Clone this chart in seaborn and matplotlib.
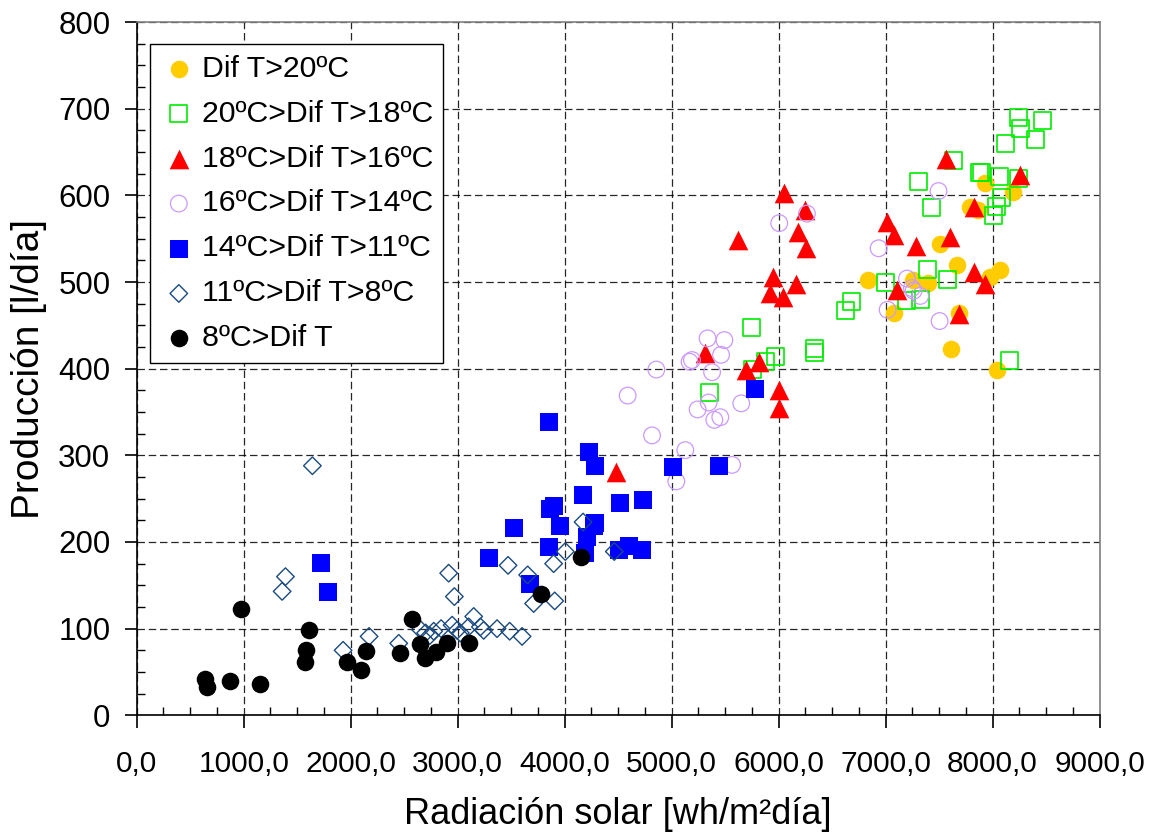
import matplotlib
matplotlib.use("Agg")
import matplotlib.pyplot as plt
from matplotlib.ticker import MultipleLocator, FuncFormatter
import pandas as pd
import seaborn as sns

# Dif T > 20ºC
x_dt20 = [6832, 7075, 7256, 7396, 7505, 7611, 7667, 7682, 7785, 7860, 7926, 7978, 8041, 8065, 8187]
y_dt20 = [502, 464, 502, 499, 544, 423, 520, 464, 587, 583, 614, 506, 399, 514, 604]

# 20ºC > Dif T > 18ºC
x_dt18 = [5355, 5745, 5757, 5882, 5969, 6333, 6333, 6623, 6677, 6997, 7200, 7309, 7325, 7396, 7427,
          7583, 7636, 7876, 7901, 8009, 8041, 8062, 8081, 8125, 8156, 8243, 8243, 8259, 8399, 8471]
y_dt18 = [373, 448, 399, 408, 414, 423, 419, 467, 478, 499, 479, 616, 480, 514, 586,
          503, 640, 627, 627, 577, 587, 622, 598, 660, 410, 690, 620, 677, 664, 686]

# 18ºC > Dif T > 16ºC
x_dt16 = [4480, 5315, 5617, 5695, 5813, 5922, 5948, 6000, 6000, 6041, 6053, 6165, 6178, 6250, 6256,
          7013, 7081, 7106, 7287, 7567, 7598, 7682, 7829, 7829, 7932, 8259]
y_dt16 = [281, 418, 548, 398, 408, 487, 506, 375, 355, 483, 603, 498, 558, 583, 539,
          569, 554, 491, 542, 642, 552, 463, 587, 512, 498, 624]

# 16ºC > Dif T > 14ºC
x_dt14 = [4589, 4817, 4857, 5044, 5128, 5168, 5190, 5243, 5336, 5346, 5378, 5399, 5455, 5462, 5493,
          5565, 5651, 6006, 6265, 6935, 7019, 7200, 7246, 7262, 7324, 7495, 7505]
y_dt14 = [369, 323, 399, 270, 306, 408, 410, 353, 435, 361, 396, 341, 344, 416, 433,
          289, 360, 568, 579, 539, 468, 504, 493, 490, 484, 605, 455]

# 14ºC > Dif T > 11ºC
x_dt11 = [1726, 1789, 3290, 3523, 3679, 3850, 3857, 3860, 3897, 3960, 4172, 4190, 4209, 4224, 4271,
          4287, 4287, 4505, 4514, 4600, 4723, 4733, 5009, 5446, 5776]
y_dt11 = [176, 142, 182, 216, 151, 194, 339, 238, 241, 218, 254, 187, 206, 304, 219,
          288, 222, 191, 245, 195, 191, 249, 287, 288, 376]

# 11ºC > Dif T > 8ºC
x_dt8 = [1359, 1390, 1642, 1929, 2172, 2449, 2651, 2700, 2739, 2776, 2845, 2916, 2948, 2969, 2994,
         3025, 3103, 3150, 3212, 3243, 3368, 3486, 3602, 3471, 3654, 3710, 3897, 3907, 4006, 4172, 4464]
y_dt8 = [143, 160, 288, 75, 91, 83, 99, 95, 92, 97, 100, 164, 104, 137, 98,
         95, 102, 114, 102, 98, 100, 97, 91, 173, 162, 129, 175, 132, 189, 223, 189]

# 8ºC > Dif T
x_dt0 = [642, 658, 876, 975, 1150, 1577, 1586, 1611, 1966, 2100, 2143, 2464, 2574, 2645, 2698,
         2801, 2901, 3103, 3782, 4156]
y_dt0 = [42, 33, 39, 123, 36, 61, 75, 98, 62, 52, 74, 72, 111, 82, 66,
         73, 83, 83, 140, 183]

labels = ["Dif T>20ºC", "20ºC>Dif T>18ºC", "18ºC>Dif T>16ºC", "16ºC>Dif T>14ºC",
          "14ºC>Dif T>11ºC", "11ºC>Dif T>8ºC", "8ºC>Dif T"]

series = [
    (x_dt20, y_dt20, dict(marker="o", s=160, color="#FFCC00", linewidth=0)),
    (x_dt18, y_dt18, dict(marker="s", s=150, facecolor="none", edgecolor="#00EE00", linewidth=1.2)),
    (x_dt16, y_dt16, dict(marker="^", s=200, color="#FF0000", linewidth=0)),
    (x_dt14, y_dt14, dict(marker="o", s=144, facecolor="none", edgecolor="#CC99FF", linewidth=0.9)),
    (x_dt11, y_dt11, dict(marker="s", s=150, color="#0000FF", linewidth=0)),
    (x_dt8, y_dt8, dict(marker="D", s=80, facecolor="none", edgecolor="#1A4A80", linewidth=1.0)),
    (x_dt0, y_dt0, dict(marker="o", s=160, color="#000000", linewidth=0)),
]

sns.set_style("ticks")
plt.rcParams["font.family"] = ["Liberation Sans", "DejaVu Sans"]
plt.rcParams["text.color"] = "black"
plt.rcParams["axes.labelcolor"] = "black"

fig = plt.figure(figsize=(11.54, 8.32), dpi=100)
ax = fig.add_axes([0.1185, 0.1403, 0.8343, 0.8331])

for (xs, ys, kw), lab in zip(series, labels):
    df = pd.DataFrame({"x": xs, "y": ys})
    sns.scatterplot(data=df, x="x", y="y", ax=ax, label=lab, zorder=3, **kw)

ax.set_xlim(0, 9000)
ax.set_ylim(0, 800)
ax.xaxis.set_major_locator(MultipleLocator(1000))
ax.xaxis.set_minor_locator(MultipleLocator(250))
ax.yaxis.set_major_locator(MultipleLocator(100))
ax.yaxis.set_minor_locator(MultipleLocator(25))
ax.xaxis.set_major_formatter(FuncFormatter(lambda v, p: f"{v:.1f}".replace(".", ",")))
ax.yaxis.set_major_formatter(FuncFormatter(lambda v, p: f"{v:.0f}"))

ax.tick_params(which="major", direction="out", length=9, width=1.2, colors="black")
ax.tick_params(which="minor", direction="in", length=6, width=1.0, colors="black")
ax.tick_params(axis="x", which="major", labelsize=21.5, pad=16)
ax.tick_params(axis="y", which="major", labelsize=22.5, pad=10)

ax.grid(True, which="major", color="black", linestyle=(0, (6, 3)), linewidth=0.9, alpha=0.85)
ax.set_axisbelow(True)

for side in ["left", "bottom"]:
    ax.spines[side].set_color("black")
    ax.spines[side].set_linewidth(1.2)
for side in ["top", "right"]:
    ax.spines[side].set_visible(True)
    ax.spines[side].set_color("#808080")
    ax.spines[side].set_linewidth(1.2)

ax.set_xlabel("Radiación solar [wh/m²día]", fontsize=26, labelpad=14, color="black")
ax.set_ylabel("Producción [l/día]", fontsize=28, labelpad=8, color="black")

leg = ax.legend(loc="upper left", bbox_to_anchor=(0.0138, 0.9684), borderaxespad=0,
                fontsize=21.8, frameon=True, fancybox=False, shadow=False,
                handlelength=1.2, handletextpad=0.15, labelspacing=0.56, borderpad=0.35)
leg.get_frame().set_edgecolor("black")
leg.get_frame().set_linewidth(1.0)
leg.get_frame().set_alpha(1)
for t in leg.get_texts():
    t.set_color("black")

fig.savefig("out.png", dpi=100)
plt.close(fig)
